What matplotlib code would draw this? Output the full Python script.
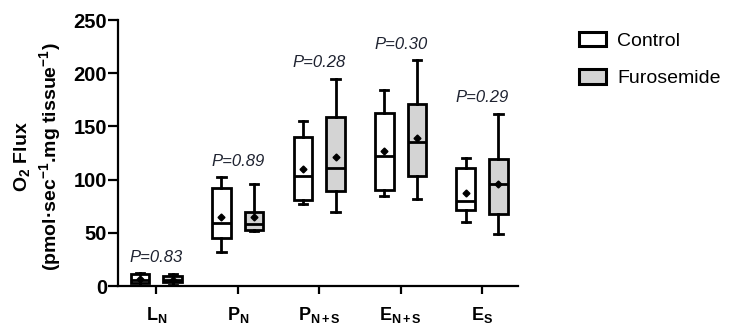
import matplotlib
matplotlib.use("Agg")
import matplotlib.pyplot as plt
from matplotlib.patches import Patch

plt.rcParams['font.family'] = ['Liberation Sans', 'DejaVu Sans']
plt.rcParams['mathtext.fontset'] = 'custom'
plt.rcParams['mathtext.rm'] = 'Liberation Sans'
plt.rcParams['mathtext.bf'] = 'Liberation Sans:bold'
plt.rcParams['mathtext.it'] = 'Liberation Sans:italic'

categories = [r'$\mathbf{L_N}$', r'$\mathbf{P_N}$', r'$\mathbf{P_{N+S}}$',
              r'$\mathbf{E_{N+S}}$', r'$\mathbf{E_S}$']
p_values = ['P=0.83', 'P=0.89', 'P=0.28', 'P=0.30', 'P=0.29']

# Control: whisker low, q1, median, q3, whisker high, mean
ctrl_lo = [0, 32, 77, 85, 60]
ctrl_q1 = [3, 45, 81, 90, 71]
ctrl_med = [6, 59, 103, 122, 80]
ctrl_q3 = [11, 92, 140, 163, 111]
ctrl_hi = [12, 102, 155, 184, 120]
ctrl_mean = [7, 65, 110, 127, 87]

# Furosemide
furo_lo = [1, 52, 70, 82, 49]
furo_q1 = [4, 53, 89, 103, 68]
furo_med = [6, 58, 111, 135, 96]
furo_q3 = [9, 70, 159, 171, 119]
furo_hi = [11, 96, 195, 212, 162]
furo_mean = [6, 65, 121, 139, 96]

fig = plt.figure(figsize=(7.38, 3.24), dpi=100)
ax = fig.add_axes([118/738, 1-286/324, 400/738, 266/324])

def stats(lo, q1, med, q3, hi, mean):
    return [dict(whislo=a, q1=b, med=c, q3=d, whishi=e, mean=f, fliers=[])
            for a, b, c, d, e, f in zip(lo, q1, med, q3, hi, mean)]

n = len(categories)
off = 0.2
w = 0.23
lw = 2.0
common = dict(widths=w, showmeans=True, patch_artist=True, showfliers=False,
              capwidths=0.1,
              whiskerprops=dict(color='black', linewidth=lw),
              capprops=dict(color='black', linewidth=lw),
              medianprops=dict(color='black', linewidth=lw),
              meanprops=dict(marker='D', markerfacecolor='black',
                             markeredgecolor='black', markersize=3.5))

ax.bxp(stats(ctrl_lo, ctrl_q1, ctrl_med, ctrl_q3, ctrl_hi, ctrl_mean),
       positions=[i - off for i in range(n)],
       boxprops=dict(facecolor='white', edgecolor='black', linewidth=lw),
       **common)
ax.bxp(stats(furo_lo, furo_q1, furo_med, furo_q3, furo_hi, furo_mean),
       positions=[i + off for i in range(n)],
       boxprops=dict(facecolor='#d4d4d4', edgecolor='black', linewidth=lw),
       **common)

for i, p in enumerate(p_values):
    top = max(ctrl_hi[i], furo_hi[i])
    ax.text(i, top + 15, p, ha='center', va='center', style='italic',
            fontsize=12, color='#1e2230')

ax.set_xlim(-0.47, 4.44)
ax.set_ylim(0, 250)
ax.set_xticks(range(n))
ax.set_xticklabels(categories, fontsize=13)
ax.set_yticks([0, 50, 100, 150, 200, 250])
ax.set_yticklabels(['0', '50', '100', '150', '200', '250'],
                   fontsize=14.5, fontweight='bold')
ax.spines['top'].set_visible(False)
ax.spines['right'].set_visible(False)
ax.spines['left'].set_linewidth(1.6)
ax.spines['bottom'].set_linewidth(1.6)
ax.tick_params(axis='y', length=7, width=1.6, pad=1)
ax.tick_params(axis='x', length=6, width=1.6, pad=7.5)

ax.set_ylabel('O$_\\mathbf{2}$ Flux\n(pmol·sec$^\\mathbf{-1}$.mg tissue$^\\mathbf{-1}$)',
              fontsize=14, fontweight='bold', linespacing=1.25)
ax.yaxis.set_label_coords(-0.138, 0.485)

handles = [Patch(facecolor='white', edgecolor='black', linewidth=2.2, label='Control'),
           Patch(facecolor='#d4d4d4', edgecolor='black', linewidth=2.2, label='Furosemide')]
fig.legend(handles=handles, loc='upper left', bbox_to_anchor=(561/738, 1-14/324),
           frameon=False, fontsize=14, handlelength=1.4, handleheight=0.8,
           labelspacing=1.0, handletextpad=0.6)

fig.savefig('out.png', dpi=100)
